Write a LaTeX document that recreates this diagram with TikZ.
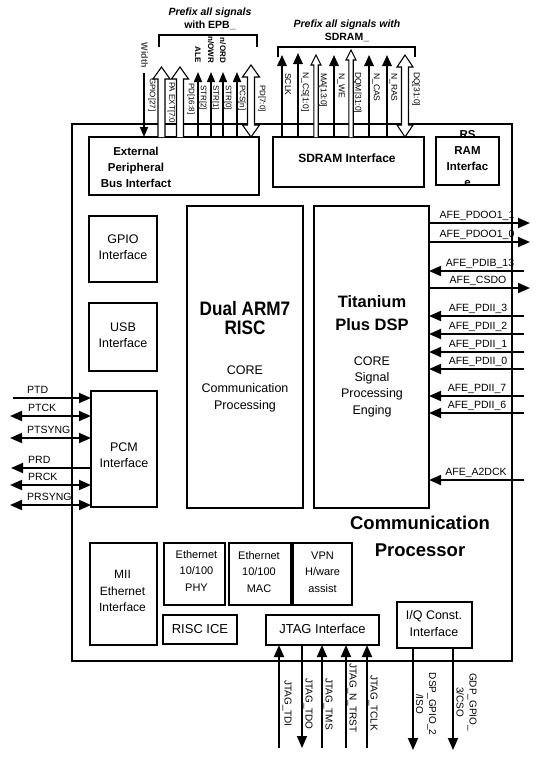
\documentclass[tikz,border=0pt]{standalone}
\usepackage{fontspec}
\setmainfont{Liberation Sans}
\newfontfamily\narrowfont[FakeStretch=0.88]{Liberation Sans}
\usetikzlibrary{arrows.meta,calc}
\newcommand\hollowup[5]{%
  \filldraw[hollow] let \p1=(#1), \p2=(#2) in
   (\x1-#3pt,\y2) -- (\x1-#3pt,\y1-#5pt) -- (\x1-#4pt,\y1-#5pt) -- (\x1,\y1) -- (\x1+#4pt,\y1-#5pt) -- (\x1+#3pt,\y1-#5pt) -- (\x1+#3pt,\y2);
}
\newcommand\hollowboth[5]{%
  \filldraw[hollow] let \p1=(#1), \p2=(#2) in
   (\x1,\y1) -- (\x1+#4pt,\y1-#5pt) -- (\x1+#3pt,\y1-#5pt) -- (\x1+#3pt,\y2+#5pt) -- (\x1+#4pt,\y2+#5pt) -- (\x1,\y2) -- (\x1-#4pt,\y2+#5pt) -- (\x1-#3pt,\y2+#5pt) -- (\x1-#3pt,\y1-#5pt) -- (\x1-#4pt,\y1-#5pt) -- cycle;
}
\begin{document}
\begin{tikzpicture}[x=1pt,y=-1pt,
  box/.style={draw, line width=1.1pt, inner sep=0pt, outer sep=0pt},
  txt/.style={align=center, inner sep=0pt, font=\fontsize{12.5}{16.3}\selectfont},
  stxt/.style={align=center, inner sep=0pt, font=\fontsize{11}{16.5}\selectfont},
  btxt/.style={align=center, inner sep=0pt, font=\bfseries\fontsize{11.5}{15.8}\selectfont},
  sig/.style={line width=1.8pt},
  tip/.style={-{Triangle[length=12pt,width=10pt]}},
  dbl/.style={{Triangle[length=12pt,width=10pt]}-{Triangle[length=12pt,width=10pt]}},
  ttip/.style={line width=1.5pt,-{Triangle[length=10pt,width=8pt]}},
  stip/.style={line width=1.7pt,-{Triangle[length=11pt,width=9.5pt]}},
  hollow/.style={draw=black, fill=white, line width=1.1pt, line join=miter},
  hlab/.style={anchor=base, inner sep=0pt, font=\fontsize{10.5}{12}\selectfont},
  llab/.style={anchor=base west, inner sep=0pt, font=\fontsize{10.5}{12}\selectfont},
  vlab/.style={rotate=-90, anchor=west, inner sep=0pt, font=\fontsize{8}{9}\selectfont},
  alab/.style={rotate=-90, anchor=east, inner sep=0pt, font=\bfseries\fontsize{8}{9}\selectfont},
  jlab/.style={rotate=-90, anchor=west, inner sep=0pt, font=\fontsize{10}{12}\selectfont},
  plab/.style={anchor=base, inner sep=0pt, font=\bfseries\fontsize{10.5}{12}\selectfont},
]
\useasboundingbox (0,0) rectangle (550,772);

% chip
\node[draw, line width=2.6pt, inner sep=0pt, minimum width=440pt, minimum height=537pt] (chip) at (292,392.5) {};

% boxes
\node[box, minimum width=170pt, minimum height=58pt] (epb) at (174,166) {};
\node[btxt] (epbT) at (136,167.5) {External\\Peripheral\\Bus Interfact};
\node[box, minimum width=151pt, minimum height=50pt] (sdram) at (348.5,162) {};
\node[btxt, font=\bfseries\fontsize{12}{14}\selectfont] (sdramT) at (347,158) {SDRAM Interface};
\node[box, minimum width=63pt, minimum height=48pt] (rsram) at (467.5,161) {};
\node[btxt, font=\bfseries\fontsize{11.5}{16.3}\selectfont] (rsramT) at (467.5,158.5) {RS\\RAM\\Interfac\\e};

\node[box, minimum width=68pt, minimum height=66pt] (gpio) at (123,249) {};
\node[txt] (gpioT) at (123,247) {GPIO\\Interface};
\node[box, minimum width=68pt, minimum height=68pt] (usb) at (123,337) {};
\node[txt] (usbT) at (123,335) {USB\\Interface};
\node[box, minimum width=66pt, minimum height=116pt] (pcm) at (124,449) {};
\node[txt] (pcmT) at (124,455) {PCM\\Interface};

\node[box, minimum width=116pt, minimum height=302pt] (arm) at (245,357) {};
\node[align=center, inner sep=0pt, font=\narrowfont\bfseries\fontsize{19.5}{19.5}\selectfont] (armT) at (245,318) {Dual ARM7\\RISC};
\node[txt, font=\fontsize{12.5}{17.8}\selectfont] (armC) at (245,389) {CORE\\Communication\\Processing};
\node[box, minimum width=115pt, minimum height=302pt] (dsp) at (371.5,357) {};
\node[align=center, inner sep=0pt, font=\bfseries\fontsize{16.5}{23}\selectfont] (dspT) at (372,313.5) {Titanium\\Plus DSP};
\node[txt] (dspC) at (372,386.5) {CORE\\Signal\\Processing\\Enging};

\node[align=center, inner sep=0pt, font=\bfseries\fontsize{18.5}{27}\selectfont] (cpT) at (420,536.5) {Communication\\Processor};

\node[box, minimum width=67pt, minimum height=102pt] (mii) at (123.5,594) {};
\node[txt, font=\fontsize{12}{16.3}\selectfont] (miiT) at (122.5,591) {MII\\Ethernet\\Interface};
\node[box, minimum width=61pt, minimum height=62pt] (phy) at (194.5,574) {};
\node[stxt] (phyT) at (196.5,571) {Ethernet\\10/100\\PHY};
\node[box, minimum width=62pt, minimum height=62pt] (mac) at (260,574) {};
\node[stxt] (macT) at (259,572) {Ethernet\\10/100\\MAC};
\node[box, minimum width=59pt, minimum height=62pt] (vpn) at (322.5,574) {};
\node[stxt] (vpnT) at (322.5,572) {VPN\\H/ware\\assist};
\node[box, minimum width=74pt, minimum height=29pt] (ice) at (200,629.5) {};
\node[txt, font=\fontsize{13}{15}\selectfont] (iceT) at (200,629.5) {RISC ICE};
\node[box, minimum width=113pt, minimum height=30pt] (jtag) at (322.5,630) {};
\node[txt, font=\fontsize{13}{15}\selectfont] (jtagT) at (322.5,629) {JTAG Interface};
\node[box, minimum width=75pt, minimum height=46pt] (iq) at (434.5,625) {};
\node[txt, font=\fontsize{12.5}{17}\selectfont] (iqT) at (434,624) {I/Q Const.\\Interface};

% ---------- top EPB group
\node[plab, font=\bfseries\itshape\fontsize{10.5}{12}\selectfont] (epbP1) at (210,15) {Prefix all signals};
\node[plab] (epbP2) at (210,28) {with EPB\_};
\coordinate (eb1) at (159,47); \coordinate (eb2) at (257,47);
\draw[line width=1.1pt] (eb1) -- ++(0,-12) -| (eb2);

\coordinate (gpioA) at (144,73);
\draw[ttip] (gpioA) -- (gpioA |- epb.north);
\node[vlab] (gpioL) at (152,78) {GPIO[27]};
\node[alab, font=\bfseries\fontsize{9}{10}\selectfont, text=black!70] (widthL) at (144.5,68) {Width};

\coordinate (paextA) at (161.5,67);
\hollowup{paextA}{paextA |- epb.north}{3.5}{8.5}{12}
\node[vlab] (paextL) at (171.5,82) {PA EXT[7:0]};
\coordinate (pdhA) at (180,67);
\hollowup{pdhA}{pdhA |- epb.north}{3.5}{8.5}{12}
\node[vlab] (pdhL) at (191,83) {PD[16:8]};

\coordinate (str2A) at (198,72);
\draw[ttip] (str2A |- epb.north) -- (str2A);
\node[vlab] (str2L) at (203,85) {STR[2]};
\node[alab] (aleL) at (198,63) {ALE};
\coordinate (str1A) at (211,72);
\draw[ttip] (str1A |- epb.north) -- (str1A);
\node[vlab] (str1L) at (215.5,85) {STR[1]};
\node[alab] (owrL) at (211,63) {n/OWR};
\coordinate (str0A) at (223,72);
\draw[ttip] (str0A |- epb.north) -- (str0A);
\node[vlab] (str0L) at (228,85) {STR[0]};
\node[alab] (ordL) at (223,63) {n/ORD};
\coordinate (pcsA) at (237,72);
\draw[ttip] (pcsA |- epb.north) -- (pcsA);
\node[vlab] (pcsL) at (242,85) {PCS[n]};
\coordinate (pdlA) at (251,65);
\hollowboth{pdlA}{pdlA |- epb.north}{3.5}{8.5}{12}
\node[vlab] (pdlL) at (262,85) {PD[7:0]};

% ---------- top SDRAM group
\node[plab, font=\bfseries\itshape\fontsize{10.5}{12}\selectfont] (sdP1) at (347,27) {Prefix all signals with};
\node[plab] (sdP2) at (347,40) {SDRAM\_};
\coordinate (sb1) at (278,57); \coordinate (sb2) at (415,57);
\draw[line width=1.1pt] (sb1) -- ++(0,-10) -| (sb2);

\coordinate (sclkA) at (282,55);
\draw[stip] (sclkA |- sdram.north) -- (sclkA);
\node[vlab, font=\fontsize{8.5}{9}\selectfont] (sclkL) at (288,73) {SCLK};
\coordinate (ncsA) at (298,53);
\draw[stip] (ncsA |- sdram.north) -- (ncsA);
\node[vlab, font=\fontsize{8.5}{9}\selectfont] (ncsL) at (305,72) {N\_CS[1:0]};
\coordinate (maA) at (316,55);
\hollowup{maA}{maA |- sdram.north}{2.2}{5}{10}
\node[vlab, font=\fontsize{8.5}{9}\selectfont] (maL) at (323,73) {MA[13:0]};
\coordinate (nweA) at (334,55);
\draw[stip] (nweA |- sdram.north) -- (nweA);
\node[vlab, font=\fontsize{8.5}{9}\selectfont] (nweL) at (341,73) {N\_WE};
\coordinate (dqmA) at (351,50);
\hollowup{dqmA}{dqmA |- sdram.north}{2.2}{5}{10}
\node[vlab, font=\fontsize{8.5}{9}\selectfont] (dqmL) at (357.5,72) {DQM[31:0]};
\coordinate (ncasA) at (369,55);
\draw[stip] (ncasA |- sdram.north) -- (ncasA);
\node[vlab, font=\fontsize{8.5}{9}\selectfont] (ncasL) at (376,73) {N\_CAS};
\coordinate (nrasA) at (387,55);
\draw[stip] (nrasA |- sdram.north) -- (nrasA);
\node[vlab, font=\fontsize{8.5}{9}\selectfont] (nrasL) at (393.5,73) {N\_RAS};
\coordinate (dqA) at (405,55);
\hollowboth{dqA}{dqA |- sdram.north}{3.5}{8}{12}
\node[vlab, font=\fontsize{8.5}{9}\selectfont] (dqL) at (416,72) {DQ[31:0]};

% ---------- right side AFE signals
\coordinate (o1) at (530,223);
\draw[sig,tip] (o1 -| dsp.east) -- (o1);
\node[hlab] (o1L) at (477,218.5) {AFE\_PDOO1\_1};
\coordinate (o2) at (530,242);
\draw[sig,tip] (o2 -| dsp.east) -- (o2);
\node[hlab] (o2L) at (477,237.5) {AFE\_PDOO1\_0};
\coordinate (i1) at (524,271);
\draw[sig,tip] (i1) -- (i1 -| dsp.east);
\node[hlab] (i1L) at (480,266.5) {AFE\_PDIB\_13};
\coordinate (o3) at (530,288);
\draw[sig,tip] (o3 -| dsp.east) -- (o3);
\node[hlab] (o3L) at (478,283.5) {AFE\_CSDO};
\coordinate (i2) at (524,316);
\draw[sig,tip] (i2) -- (i2 -| dsp.east);
\node[hlab] (i2L) at (478,311.5) {AFE\_PDII\_3};
\coordinate (i3) at (524,334);
\draw[sig,tip] (i3) -- (i3 -| dsp.east);
\node[hlab] (i3L) at (478,329.5) {AFE\_PDII\_2};
\coordinate (i4) at (524,352);
\draw[sig,tip] (i4) -- (i4 -| dsp.east);
\node[hlab] (i4L) at (478,347.5) {AFE\_PDII\_1};
\coordinate (i5) at (524,369);
\draw[sig,tip] (i5) -- (i5 -| dsp.east);
\node[hlab] (i5L) at (478,364.5) {AFE\_PDII\_0};
\coordinate (i6) at (524,396);
\draw[sig,tip] (i6) -- (i6 -| dsp.east);
\node[hlab] (i6L) at (477,391.5) {AFE\_PDII\_7};
\coordinate (i7) at (524,413);
\draw[sig,tip] (i7) -- (i7 -| dsp.east);
\node[hlab] (i7L) at (477,408.5) {AFE\_PDII\_6};
\coordinate (i8) at (524,480);
\draw[sig,tip] (i8) -- (i8 -| dsp.east);
\node[hlab] (i8L) at (476,475.5) {AFE\_A2DCK};

% ---------- left side PCM signals
\coordinate (ptd) at (13,398);
\draw[sig,tip] (ptd) -- (ptd -| pcm.west);
\node[llab] (ptdL) at (27,393.5) {PTD};
\coordinate (ptck) at (10,416);
\draw[sig,dbl] (ptck) -- (ptck -| pcm.west);
\node[llab] (ptckL) at (28,411.5) {PTCK};
\coordinate (ptsy) at (10,438);
\draw[sig,dbl] (ptsy) -- (ptsy -| pcm.west);
\node[llab] (ptsyL) at (27,433.5) {PTSYNG};
\coordinate (prd) at (11,468);
\draw[sig,tip] (prd -| pcm.west) -- (prd);
\node[llab] (prdL) at (28,463.5) {PRD};
\coordinate (prck) at (10,485);
\draw[sig,dbl] (prck) -- (prck -| pcm.west);
\node[llab] (prckL) at (28,480.5) {PRCK};
\coordinate (prsy) at (10,505);
\draw[sig,dbl] (prsy) -- (prsy -| pcm.west);
\node[llab] (prsyL) at (27,500.5) {PRSYNG};

% ---------- bottom JTAG signals
\coordinate (tdi) at (279,748);
\draw[sig,tip] (tdi) -- (tdi |- jtag.south);
\node[jlab] (tdiL) at (287,680) {JTAG\_TDI};
\coordinate (tdo) at (302,748);
\draw[sig,tip] (tdo |- jtag.south) -- (tdo);
\node[jlab] (tdoL) at (308,678) {JTAG\_TDO};
\coordinate (tms) at (322,748);
\draw[sig,tip] (tms) -- (tms |- jtag.south);
\node[jlab] (tmsL) at (328,678) {JTAG\_TMS};
\coordinate (trst) at (346,748);
\draw[sig,tip] (trst) -- (trst |- jtag.south);
\node[jlab] (trstL) at (352,663) {JTAG\_N\_TRST};
\coordinate (tclk) at (367,748);
\draw[sig,tip] (tclk) -- (tclk |- jtag.south);
\node[jlab] (tclkL) at (373,675) {JTAG\_TCLK};

% ---------- bottom I/Q signals
\coordinate (dg2) at (413,750);
\draw[sig,tip] (dg2 |- iq.south) -- (dg2);
\node[rotate=-90, align=center, inner sep=0pt, font=\fontsize{10}{13}\selectfont] (dg2L) at (426,704) {DSP\_GPIO\_2\\/ISO};
\coordinate (gg3) at (453,750);
\draw[sig,tip] (gg3 |- iq.south) -- (gg3);
\node[rotate=-90, align=center, inner sep=0pt, font=\fontsize{10}{13}\selectfont] (gg3L) at (466.5,702) {GDP\_GPIO\_\\3/CSO};
\end{tikzpicture}
\end{document}
